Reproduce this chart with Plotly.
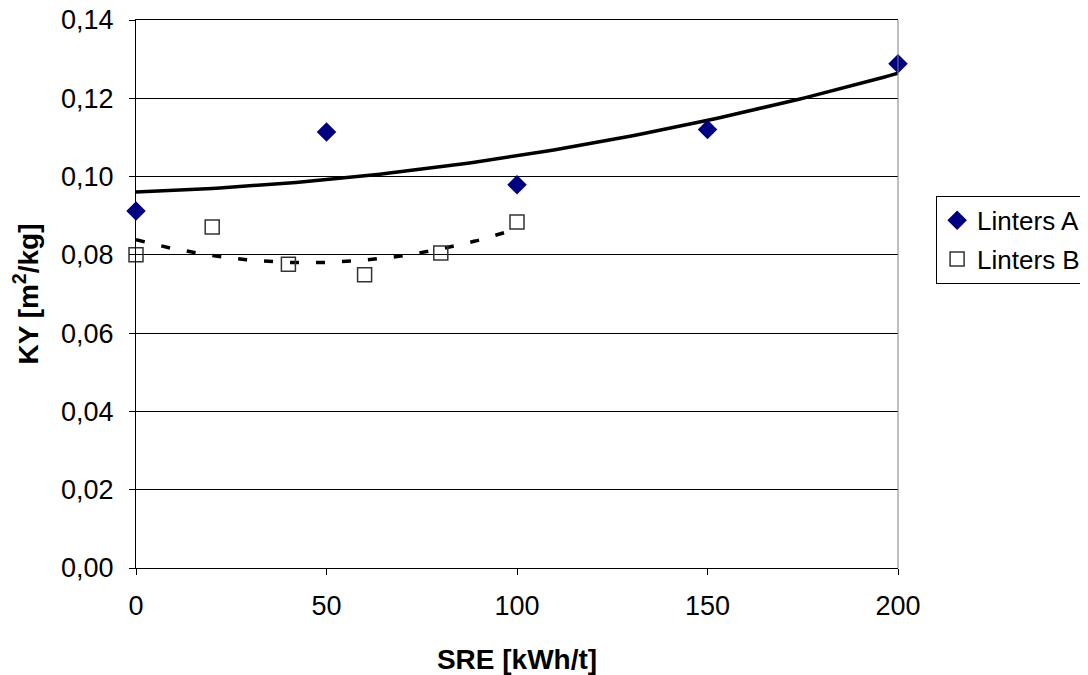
import numpy as np
import plotly.graph_objects as go

# Data
sre_a = [0, 50, 100, 150, 200]
ky_a = [0.0912, 0.1114, 0.0979, 0.1120, 0.1288]
sre_b = [0, 20, 40, 60, 80, 100]
ky_b = [0.0800, 0.0871, 0.0776, 0.0749, 0.0805, 0.0884]

name_a = "Linters A"
name_b = "Linters B"

# Polynomial (order 2) trend lines computed from the data
ca = np.polyfit(sre_a, ky_a, 2)
cb = np.polyfit(sre_b, ky_b, 2)
xa = np.linspace(min(sre_a), max(sre_a), 101)
xb = np.linspace(min(sre_b), max(sre_b), 101)

fig = go.Figure()
fig.add_trace(go.Scatter(x=xa, y=np.polyval(ca, xa), mode="lines",
                         line=dict(color="black", width=3.5), showlegend=False,
                         hoverinfo="skip"))
fig.add_trace(go.Scatter(x=xb, y=np.polyval(cb, xb), mode="lines",
                         line=dict(color="black", width=3.5, dash="9px,17px"),
                         showlegend=False, hoverinfo="skip"))
fig.add_trace(go.Scatter(x=sre_a, y=ky_a, mode="markers", name=name_a, legendgroup="a",
                         marker=dict(symbol="diamond", size=15, color="#000080",
                                     line=dict(width=0)), cliponaxis=False))
fig.add_trace(go.Scatter(x=sre_b, y=ky_b, mode="markers", name=name_b, legendgroup="b",
                         marker=dict(symbol="square-open", size=14, color="#333333",
                                     line=dict(width=1.5)), cliponaxis=False))

font = "Liberation Sans, Arial, sans-serif"
fig.update_layout(
    width=1088, height=675,
    margin=dict(l=128, r=198, t=12, b=115, autoexpand=False),
    paper_bgcolor="white", plot_bgcolor="white",
    separators=",.",
    font=dict(family=font, size=27, color="black"),
    showlegend=True,
    legend=dict(x=1.05, y=0.679, xanchor="left", yanchor="top",
                bordercolor="black", borderwidth=1, bgcolor="white",
                font=dict(size=26), itemwidth=30, tracegroupgap=2),
    xaxis=dict(range=[0, 200], dtick=50, tick0=0, showgrid=False,
               showline=True, linecolor="black", linewidth=1, mirror=True,
               ticks="outside", ticklen=6, tickcolor="black",
               tickfont=dict(size=27), automargin=False, ticklabelstandoff=8,
               ticklabeloverflow="allow",
               zeroline=False,
               title=dict(text="<b>SRE [kWh/t]</b>", font=dict(size=28), standoff=28)),
    yaxis=dict(range=[0, 0.14], dtick=0.02, tick0=0, tickformat=".2f",
               showgrid=True, gridcolor="black", gridwidth=1,
               showline=True, linecolor="black", linewidth=1,
               ticks="outside", ticklen=6, tickcolor="black",
               tickfont=dict(size=27), automargin=False, ticklabelstandoff=10,
               ticklabeloverflow="allow",
               zeroline=False,
               title=dict(text="<b>KY [m<sup>2</sup>/kg]</b>", font=dict(size=28), standoff=17)),
)
fig.add_shape(type="line", xref="x domain", yref="y domain", x0=1, x1=1, y0=0, y1=1,
              line=dict(color="#808080", width=1))

fig.write_html("out.html")
